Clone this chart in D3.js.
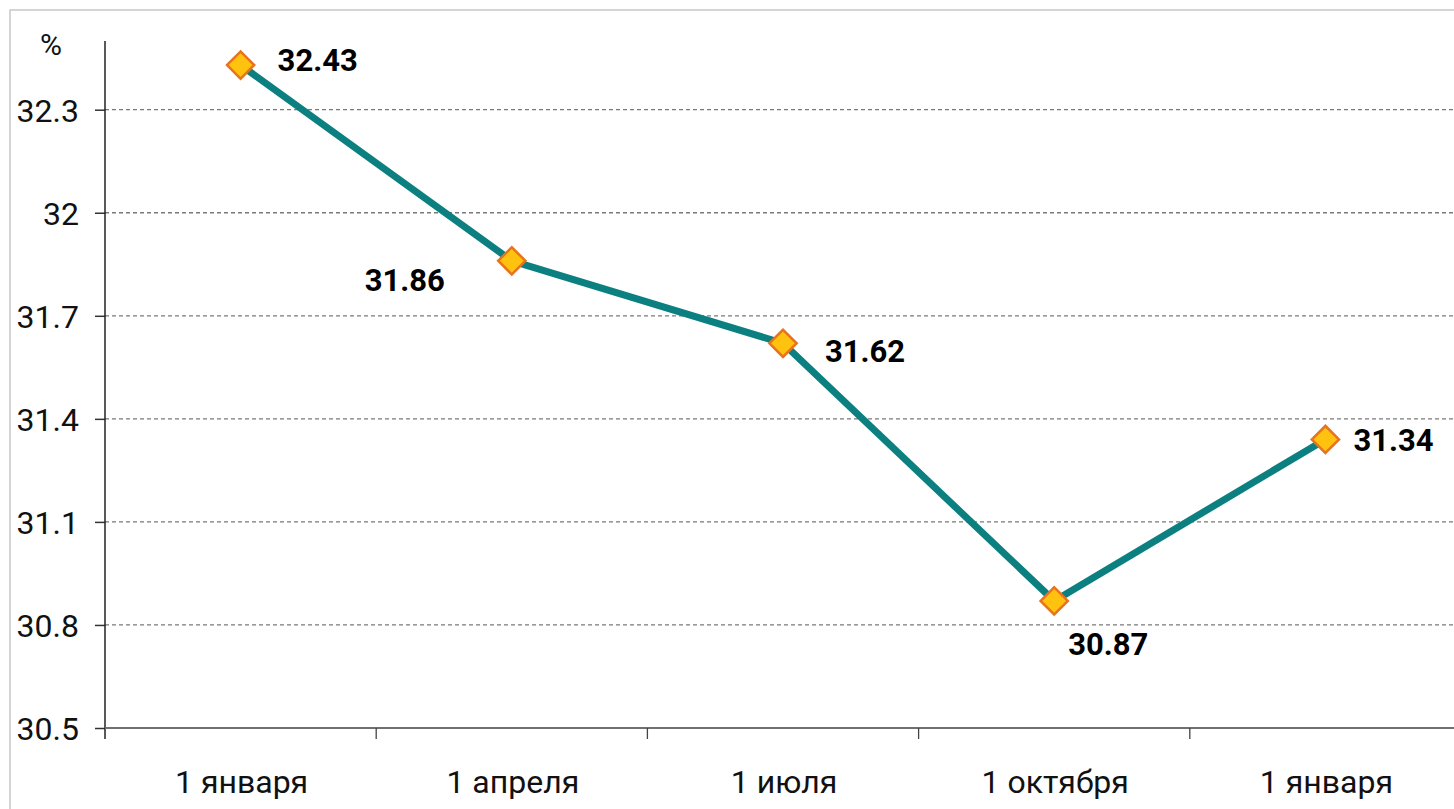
<!DOCTYPE html>
<html>
<head>
<meta charset="utf-8">
<script src="https://cdn.jsdelivr.net/npm/d3@7/dist/d3.min.js"></script>
<style>
  body { margin: 0; background: #fff; }
  svg { display: block; font-family: Roboto, "Liberation Sans", Arial, sans-serif; }
</style>
</head>
<body>
<script>
// data
const categories = ["1 января", "1 апреля", "1 июля", "1 октября", "1 января "];
const values = [32.43, 31.86, 31.62, 30.87, 31.34];
const yTicks = [30.5, 30.8, 31.1, 31.4, 31.7, 32, 32.3];
const unitLabel = "%";

const width = 1454;
const height = 809;
const margin = { top: 41, left: 105, bottom: 81 };
const plotRight = 1461; // chart keeps going a bit past the window

const svg = d3.select("body")
  .append("svg")
  .attr("width", width)
  .attr("height", height);

// outer frame (only top/left visible)
svg.append("rect")
  .attr("x", 10).attr("y", 10)
  .attr("width", width + 20).attr("height", height + 20)
  .attr("fill", "none")
  .attr("stroke", "#c8c8c8")
  .attr("stroke-width", 1.5);

const x = d3.scaleBand().domain(categories).range([margin.left, plotRight]);
const y = d3.scaleLinear().domain([30.5, 32.5]).range([height - margin.bottom, margin.top]);

// grid lines
svg.append("g")
  .selectAll("line")
  .data(yTicks.slice(1))
  .join("line")
  .attr("x1", margin.left)
  .attr("x2", plotRight)
  .attr("y1", d => y(d))
  .attr("y2", d => y(d))
  .attr("stroke", "#7a7a7a")
  .attr("stroke-width", 1.3)
  .attr("stroke-dasharray", "4,3");

// y axis
const yAxis = d3.axisLeft(y)
  .tickValues(yTicks)
  .tickSize(10)
  .tickPadding(16)
  .tickFormat(d => d3.format("")(+d.toFixed(1)));

const gy = svg.append("g")
  .attr("transform", `translate(${margin.left},0)`)
  .call(yAxis);
gy.select(".domain").remove();
gy.selectAll(".tick line").attr("stroke", "#333").attr("stroke-width", 1.5);
gy.selectAll(".tick text")
  .attr("font-size", 32)
  .attr("font-family", "Roboto, sans-serif")
  .attr("fill", "#111")
  .attr("dy", "0.36em");

// y axis line (runs down past the x axis like a tick)
svg.append("line")
  .attr("x1", margin.left).attr("x2", margin.left)
  .attr("y1", y(32.5)).attr("y2", y(30.5) + 11)
  .attr("stroke", "#222")
  .attr("stroke-width", 1.5);

// x axis
const gx = svg.append("g")
  .attr("transform", `translate(0,${y(30.5)})`);

gx.append("line")
  .attr("x1", margin.left).attr("x2", plotRight)
  .attr("stroke", "#707070")
  .attr("stroke-width", 2.2);

gx.selectAll("line.tk")
  .data(categories.slice(1))
  .join("line")
  .attr("class", "tk")
  .attr("x1", d => x(d)).attr("x2", d => x(d))
  .attr("y1", 0).attr("y2", 11)
  .attr("stroke", "#444")
  .attr("stroke-width", 1.3);

gx.selectAll("text")
  .data(categories)
  .join("text")
  .attr("x", d => x(d) + x.bandwidth() / 2 + 1)
  .attr("y", 65)
  .attr("text-anchor", "middle")
  .attr("font-size", 32)
  .attr("fill", "#111")
  .text(d => d.trim());

// unit label
svg.append("text")
  .attr("x", 51).attr("y", 55)
  .attr("text-anchor", "middle")
  .attr("font-size", 30)
  .attr("fill", "#111")
  .text(unitLabel);

// line
const pts = categories.map((c, i) => ({ c, v: values[i] }));
const cx = d => x(d.c) + x.bandwidth() / 2;

svg.append("path")
  .datum(pts)
  .attr("fill", "none")
  .attr("stroke", "#0c8080")
  .attr("stroke-width", 7)
  .attr("stroke-linejoin", "round")
  .attr("d", d3.line().x(cx).y(d => y(d.v)));

// markers
svg.append("g")
  .selectAll("path")
  .data(pts)
  .join("path")
  .attr("transform", d => `translate(${cx(d)},${y(d.v)}) rotate(45)`)
  .attr("d", d3.symbol().type(d3.symbolSquare).size(370))
  .attr("fill", "#ffc20e")
  .attr("stroke", "#e8731c")
  .attr("stroke-width", 2.5);

// value labels, placed around the markers like the original
const labelPlace = [
  { dx: 37, dy: 6, anchor: "start" },
  { dx: -67, dy: 30, anchor: "end" },
  { dx: 42, dy: 19, anchor: "start" },
  { dx: 14, dy: 54, anchor: "start" },
  { dx: 28, dy: 12, anchor: "start" }
];

svg.append("g")
  .selectAll("text")
  .data(pts)
  .join("text")
  .attr("x", (d, i) => cx(d) + labelPlace[i].dx)
  .attr("y", (d, i) => y(d.v) + labelPlace[i].dy)
  .attr("text-anchor", (d, i) => labelPlace[i].anchor)
  .attr("font-size", 31)
  .attr("font-weight", "bold")
  .attr("fill", "#000")
  .text(d => d3.format(".2f")(d.v));
</script>
</body>
</html>
